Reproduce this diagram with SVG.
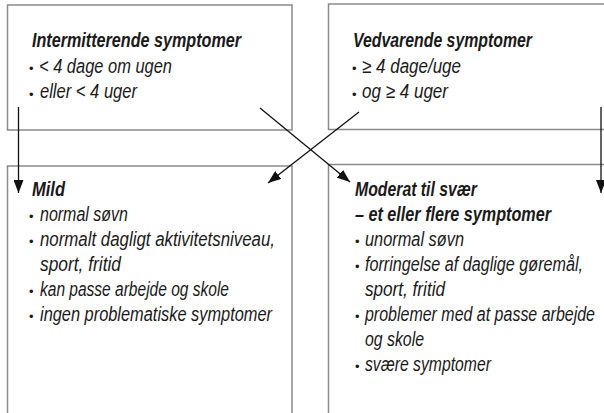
<svg xmlns="http://www.w3.org/2000/svg" width="604" height="413" viewBox="0 0 604 413">
<style>
.box{fill:#fff;stroke:#8a8a8a;stroke-width:1.5}
text{font-family:"Liberation Sans",Arial,sans-serif;font-size:20px;font-style:italic;fill:#1a1a1a}
.h{font-weight:bold}
.b{font-style:normal;font-size:13px}
.c{stroke:#111;stroke-width:1.3;fill:none}
</style>
<defs>
<marker id="ah" viewBox="0 0 13 10" refX="13" refY="5" markerWidth="13" markerHeight="10" markerUnits="userSpaceOnUse" orient="auto">
<path d="M0,0 L13,5 L0,10 Z" fill="#111"/>
</marker>
</defs>
<rect width="604" height="413" fill="#fff"/>
<g id="intermitterende">
<rect class="box" x="7.5" y="5" width="284.5" height="125"/>
<text class="b" x="29" y="73">•</text>
<text class="b" x="29" y="98.5">•</text>
<g transform="scale(0.8 1)">
<text class="h" x="40" y="47.5" textLength="261.25" lengthAdjust="spacingAndGlyphs">Intermitterende symptomer</text>
<text x="48.75" y="73" textLength="166.25" lengthAdjust="spacingAndGlyphs">&lt; 4 dage om ugen</text>
<text x="50" y="98.5" textLength="121.25" lengthAdjust="spacingAndGlyphs">eller &lt; 4 uger</text>
</g>
</g>
<g id="vedvarende">
<rect class="box" x="328.5" y="4" width="300" height="125.5"/>
<text class="b" x="352" y="73">•</text>
<text class="b" x="352" y="98.5">•</text>
<g transform="scale(0.8 1)">
<text class="h" x="441.25" y="47.5" textLength="223.75" lengthAdjust="spacingAndGlyphs">Vedvarende symptomer</text>
<text x="452.5" y="73" textLength="123.75" lengthAdjust="spacingAndGlyphs">≥ 4 dage/uge</text>
<text x="452.5" y="98.5" textLength="107.5" lengthAdjust="spacingAndGlyphs">og ≥ 4 uger</text>
</g>
</g>
<g id="mild">
<rect class="box" x="7.5" y="166" width="284.5" height="300"/>
<text class="b" x="29" y="221">•</text>
<text class="b" x="29" y="246">•</text>
<text class="b" x="29" y="296">•</text>
<text class="b" x="29" y="321">•</text>
<g transform="scale(0.8 1)">
<text class="h" x="40" y="196" textLength="41.25" lengthAdjust="spacingAndGlyphs">Mild</text>
<text x="50" y="221" textLength="110" lengthAdjust="spacingAndGlyphs">normal søvn</text>
<text x="50" y="246" textLength="293.75" lengthAdjust="spacingAndGlyphs">normalt dagligt aktivitetsniveau,</text>
<text x="50" y="271" textLength="101.25" lengthAdjust="spacingAndGlyphs">sport, fritid</text>
<text x="50" y="296" textLength="236.25" lengthAdjust="spacingAndGlyphs">kan passe arbejde og skole</text>
<text x="50" y="321" textLength="290" lengthAdjust="spacingAndGlyphs">ingen problematiske symptomer</text>
</g>
</g>
<g id="moderat">
<rect class="box" x="328.5" y="164.5" width="300" height="300"/>
<text class="b" x="355" y="246">•</text>
<text class="b" x="355" y="271">•</text>
<text class="b" x="355" y="321">•</text>
<text class="b" x="355" y="371">•</text>
<g transform="scale(0.8 1)">
<text class="h" x="443.75" y="196" textLength="152.5" lengthAdjust="spacingAndGlyphs">Moderat til svær</text>
<text class="h" x="443.75" y="221" textLength="245" lengthAdjust="spacingAndGlyphs">– et eller flere symptomer</text>
<text x="456.25" y="246" textLength="123.75" lengthAdjust="spacingAndGlyphs">unormal søvn</text>
<text x="456.25" y="271" textLength="272.5" lengthAdjust="spacingAndGlyphs">forringelse af daglige gøremål,</text>
<text x="456.25" y="296" textLength="100" lengthAdjust="spacingAndGlyphs">sport, fritid</text>
<text x="456.25" y="321" textLength="287.5" lengthAdjust="spacingAndGlyphs">problemer med at passe arbejde</text>
<text x="456.25" y="346" textLength="73.75" lengthAdjust="spacingAndGlyphs">og skole</text>
<text x="456.25" y="371" textLength="157.5" lengthAdjust="spacingAndGlyphs">svære symptomer</text>
</g>
</g>
<g id="connectors">
<line class="c" x1="18.5" y1="107" x2="18.5" y2="193" marker-end="url(#ah)"/>
<line class="c" x1="601" y1="107" x2="601" y2="193" marker-end="url(#ah)"/>
<line class="c" x1="260" y1="108" x2="350" y2="182" marker-end="url(#ah)"/>
<line class="c" x1="359" y1="112" x2="268" y2="183" marker-end="url(#ah)"/>
</g>
</svg>
